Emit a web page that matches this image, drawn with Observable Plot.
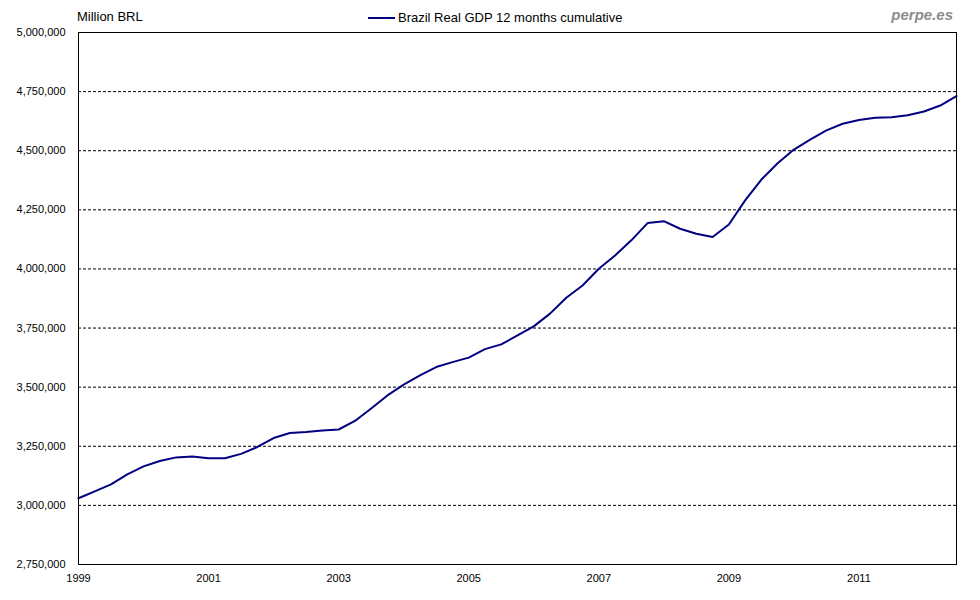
<!DOCTYPE html>
<html>
<head>
<meta charset="utf-8">
<script src="https://cdn.jsdelivr.net/npm/d3@7"></script>
<script src="https://cdn.jsdelivr.net/npm/@observablehq/plot@0.6"></script>
<style>
  body { margin: 0; background: #fff; font-family: "Liberation Sans", Arial, sans-serif; }
  #wrap { position: relative; width: 980px; height: 600px; }
  #chart { position: absolute; left: 0; top: 0; }
  .hdr { position: absolute; font-size: 13px; color: #000; white-space: nowrap; }
  #unit { left: 77px; top: 9px; }
  #legend { left: 368px; top: 10px; display: flex; align-items: center; }
  #legend .sw { width: 27px; height: 2px; background: #000080; margin-right: 3px; }
  #brand { right: 27px; top: 6px; font-size: 15px; font-weight: bold; font-style: italic; color: #8c8c8c; }
</style>
</head>
<body>
<div id="wrap">
  <div id="chart"></div>
  <div class="hdr" id="unit">Million BRL</div>
  <div class="hdr" id="legend"><span class="sw"></span><span>Brazil Real GDP 12 months cumulative</span></div>
  <div class="hdr" id="brand">perpe.es</div>
</div>
<script>
const seriesName = "Brazil Real GDP 12 months cumulative";
const quarters = [
  "1999Q1","1999Q2","1999Q3","1999Q4","2000Q1","2000Q2","2000Q3","2000Q4",
  "2001Q1","2001Q2","2001Q3","2001Q4","2002Q1","2002Q2","2002Q3","2002Q4",
  "2003Q1","2003Q2","2003Q3","2003Q4","2004Q1","2004Q2","2004Q3","2004Q4",
  "2005Q1","2005Q2","2005Q3","2005Q4","2006Q1","2006Q2","2006Q3","2006Q4",
  "2007Q1","2007Q2","2007Q3","2007Q4","2008Q1","2008Q2","2008Q3","2008Q4",
  "2009Q1","2009Q2","2009Q3","2009Q4","2010Q1","2010Q2","2010Q3","2010Q4",
  "2011Q1","2011Q2","2011Q3","2011Q4","2012Q1","2012Q2","2012Q3"
];
const gdp = [
  3030000, 3059000, 3089000, 3131000, 3165000, 3188000, 3203000, 3207000,
  3199000, 3199000, 3218000, 3247000, 3285000, 3306000, 3310000, 3317000,
  3321000, 3357000, 3410000, 3465000, 3511000, 3550000, 3585000, 3606000,
  3625000, 3661000, 3681000, 3719000, 3757000, 3811000, 3878000, 3930000,
  4001000, 4057000, 4121000, 4194000, 4202000, 4170000, 4149000, 4135000,
  4188000, 4290000, 4378000, 4447000, 4505000, 4547000, 4586000, 4614000,
  4630000, 4639000, 4642000, 4650000, 4666000, 4691000, 4731000
];
const yTicks = [2750000, 3000000, 3250000, 3500000, 3750000, 4000000, 4250000, 4500000, 4750000, 5000000];
const gridTicks = [3000000, 3250000, 3500000, 3750000, 4000000, 4250000, 4500000, 4750000];
const xTicks = [1999, 2001, 2003, 2005, 2007, 2009, 2011];

const toYear = q => +q.slice(0, 4) + (+q.slice(5) - 1) / 4;
const data = quarters.map((q, i) => ({t: toYear(q), v: gdp[i]}));

const fmt = d3.format(",");
const chart = Plot.plot({
  width: 980,
  height: 600,
  marginLeft: 78,
  marginRight: 24,
  marginTop: 32,
  marginBottom: 36,
  style: {fontFamily: "'Liberation Sans', Arial, sans-serif", fontSize: "11px", color: "#000", background: "#fff"},
  x: {domain: [1999, 2012.5], ticks: xTicks, tickFormat: d => String(d), tickSize: 0, tickPadding: 10, label: null},
  y: {domain: [2750000, 5000000], ticks: yTicks, tickFormat: fmt, tickSize: 0, tickPadding: 13, label: null},
  marks: [
    Plot.ruleY(gridTicks, {stroke: "#000", strokeWidth: 1, strokeDasharray: "3,2"}),
    Plot.line(data, {x: "t", y: "v", stroke: "#000080", strokeWidth: 2}),
    Plot.frame({stroke: "#000", strokeWidth: 1})
  ]
});
document.getElementById("chart").appendChild(chart);
</script>
</body>
</html>
